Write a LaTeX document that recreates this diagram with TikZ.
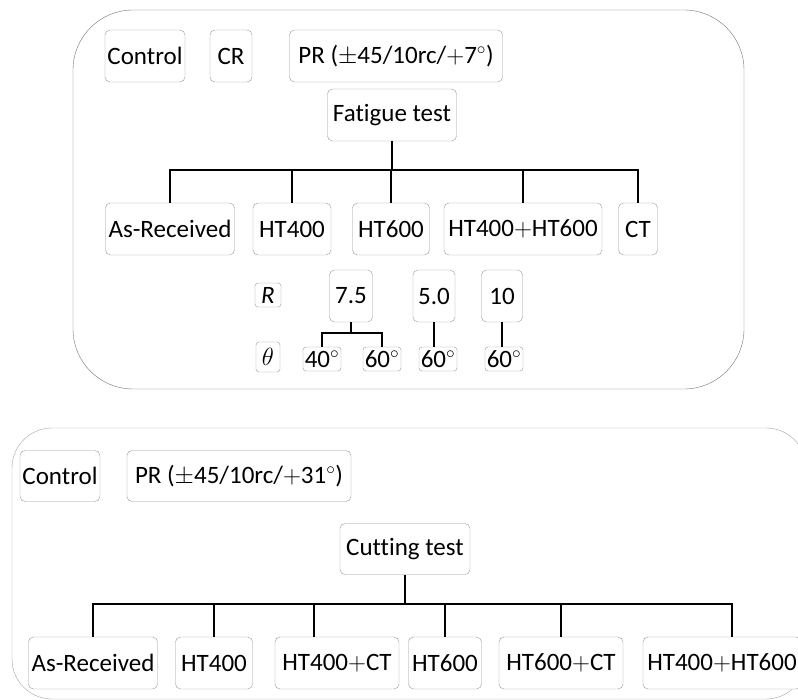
\documentclass[tikz,border=0pt]{standalone}
\usepackage{fontspec}
\setmainfont[Ligatures=NoCommon]{Carlito}
\usetikzlibrary{positioning,backgrounds}

\begin{document}
\begin{tikzpicture}[
  x=1pt, y=-1pt,
  font=\fontsize{25}{29}\selectfont,
  box/.style={draw=gray!80, rounded corners=5pt, fill=white, align=center, minimum height=52, inner sep=1pt},
  tag/.style={draw=gray!80, rounded corners=3pt, fill=white, align=center, minimum height=24, inner sep=0pt},
  wire/.style={line width=1.5pt, black},
  frame/.style={draw=gray!90!black, rounded corners=60pt},
]
\useasboundingbox (0,0) rectangle (798,700);

% --- Fatigue branch ---
\node[box, minimum width=80]  (ctl1) at (145,56) {Control};
\node[box, minimum width=42]  (cr1)  at (231,56) {CR};
\node[box, minimum width=213] (pr1)  at (396,56) {PR (\(\pm\)45/10rc/\(+\)7\(^{\circ}\))};
\node[box, minimum width=129] (fat)  at (392,115) {Fatigue test};

\node[box, minimum width=129] (ar1)  at (170,229) {As-Received};
\node[box, minimum width=78]  (ht41) at (292,229) {HT400};
\node[box, minimum width=77]  (ht61) at (391,229) {HT600};
\node[box, minimum width=158] (hh1)  at (523,229) {HT400\(+\)HT600};
\node[box, minimum width=39]  (ct1)  at (638,229) {CT};

% --- R and theta ---
\node[tag, minimum width=26] (rr)   at (268,295) {\textit{R}};
\node[box, minimum width=43] (v75)  at (351,296) {7.5};
\node[box, minimum width=42] (v50)  at (434,296) {5.0};
\node[box, minimum width=41] (v10)  at (502,296) {10};
\node[tag, minimum width=24, minimum height=30] (th) at (268,357) {\(\theta\)};
\node[tag, minimum width=38] (d40)  at (322,359) {40\(^{\circ}\)};
\node[tag, minimum width=38] (d60a) at (382,359) {60\(^{\circ}\)};
\node[tag, minimum width=38] (d60b) at (438,359) {60\(^{\circ}\)};
\node[tag, minimum width=38] (d60c) at (504,359) {60\(^{\circ}\)};

% --- Cutting branch ---
\node[box, minimum width=80, minimum height=51]  (ctl2) at (60,476) {Control};
\node[box, minimum width=224, minimum height=51] (pr2)  at (239,476) {PR (\(\pm\)45/10rc/\(+\)31\(^{\circ}\))};
\node[box, minimum width=130, minimum height=51] (cut)  at (405,549) {Cutting test};

\node[box, minimum width=129] (ar2)  at (93,663)  {As-Received};
\node[box, minimum width=77]  (ht42) at (214,663) {HT400};
\node[box, minimum width=124] (hc2)  at (337,663) {HT400\(+\)CT};
\node[box, minimum width=73]  (ht62) at (445,663) {HT600};
\node[box, minimum width=124] (hc3)  at (561,663) {HT600\(+\)CT};
\node[box, minimum width=158] (hh2)  at (722,663) {HT400\(+\)HT600};

% --- Frames ---
\begin{scope}[on background layer]
  \draw[frame] (73,10) rectangle (744,389);
  \draw[frame, draw=gray!70, rounded corners=40pt] (12,428) rectangle (806,699);
\end{scope}

% --- Edges ---
\coordinate (busT) at (392,170);
\draw[wire] (fat.south) -- (busT);
\draw[wire] (ar1.north) |- (busT);
\draw[wire] (ct1.north) |- (busT);
\draw[wire] (ht41.north) -- (ht41.north |- busT);
\draw[wire] (ht61.north) -- (ht61.north |- busT);
\draw[wire] (hh1.north) -- (hh1.north |- busT);

\coordinate (brk) at ([yshift=-11pt]v75.south);
\draw[wire] (v75.south) -- (brk);
\draw[wire] (d40.north) |- (brk) -| (d60a.north);
\draw[wire] (v50.south) -- (v50.south |- d60b.north);
\draw[wire] (v10.south) -- (v10.south |- d60c.north);

\coordinate (busB) at (405,604);
\draw[wire] (cut.south) -- (busB);
\draw[wire] (ar2.north) |- (busB);
\draw[wire] ([xshift=10pt]hh2.north) |- (busB);
\draw[wire] (ht42.north) -- (ht42.north |- busB);
\draw[wire] ([xshift=-23pt]hc2.north) -- ([xshift=-23pt]hc2.north |- busB);
\draw[wire] (ht62.north) -- (ht62.north |- busB);
\draw[wire] (hc3.north) -- (hc3.north |- busB);
\end{tikzpicture}
\end{document}
